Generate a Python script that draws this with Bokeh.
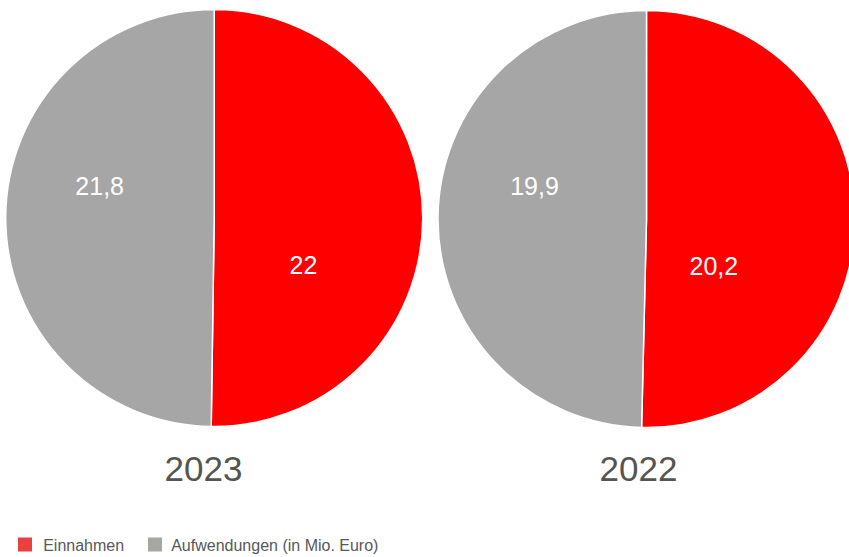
import math
from bokeh.plotting import figure
from bokeh.models import Range1d, ColumnDataSource
from bokeh.embed import file_html
from bokeh.resources import INLINE
from bokeh.core.properties import value

# ---- data ----
years = ["2023", "2022"]
einnahmen = [22.0, 20.2]
aufwendungen = [21.8, 19.9]
einnahmen_labels = ["22", "20,2"]
aufwendungen_labels = ["21,8", "19,9"]
series_names = ["Einnahmen", "Aufwendungen (in Mio. Euro)"]

# ---- styles / layout (screen pixels) ----
RED = "#FF0000"
GRAY = "#A6A6A6"
LEG_RED = "#E8413F"
LEG_GRAY = "#A6A6A3"
YEAR_COLOR = "#55544E"
LEG_TEXT = "#58585A"
FONT = "Liberation Sans"

W, H = 849, 557
centers = [(213.7, 217.5), (646.0, 218.5)]
R = 208.5
red_lbl_off = [(89.3, 46.5), (67.3, 46.5)]
gray_lbl_off = [(-114.5, -32.5), (-112.0, -33.5)]
year_pos = [(203.0, 468.7), (638.0, 468.7)]
leg_sq = [(24.5, 544.0), (154.5, 544.0)]
leg_txt = [(42.7, 544.5), (170.7, 544.5)]


def sy(y):
    return H - y


p = figure(width=W, height=H, output_backend="svg", toolbar_location=None,
           x_range=Range1d(0, W), y_range=Range1d(0, H),
           min_border=0, outline_line_color=None)
p.axis.visible = False
p.grid.visible = False
p.background_fill_color = "white"
p.border_fill_color = "white"

# wedges
xs, ys, starts, ends, colors = [], [], [], [], []
for i in range(len(years)):
    total = einnahmen[i] + aufwendungen[i]
    frac = einnahmen[i] / total
    cx, cy = centers[i][0], sy(centers[i][1])
    top = math.pi / 2
    xs.append(cx); ys.append(cy)
    starts.append(top - 2 * math.pi * frac); ends.append(top); colors.append(RED)
    xs.append(cx); ys.append(cy)
    starts.append(top); ends.append(top - 2 * math.pi * frac + 2 * math.pi); colors.append(GRAY)

src = ColumnDataSource(dict(x=xs, y=ys, s=starts, e=ends, c=colors))
p.wedge(x="x", y="y", radius=R, start_angle="s", end_angle="e",
        fill_color="c", line_color="white", line_width=1.5, source=src)

# value labels
lx, ly, lt = [], [], []
for i in range(len(years)):
    cx, cy = centers[i]
    lx.append(cx + red_lbl_off[i][0]); ly.append(sy(cy + red_lbl_off[i][1])); lt.append(einnahmen_labels[i])
    lx.append(cx + gray_lbl_off[i][0]); ly.append(sy(cy + gray_lbl_off[i][1])); lt.append(aufwendungen_labels[i])
p.text(x=lx, y=ly, text=lt, text_color="white", text_font=value(FONT),
       text_font_size="25px", text_align="center", text_baseline="alphabetic")

# year labels
p.text(x=[pos[0] for pos in year_pos], y=[sy(pos[1]) for pos in year_pos], text=years,
       text_color=YEAR_COLOR, text_font=value(FONT), text_font_size="35px",
       text_align="center", text_baseline="alphabetic")

# legend
p.scatter(x=[q[0] for q in leg_sq], y=[sy(q[1]) for q in leg_sq], marker="square",
          size=14, fill_color=[LEG_RED, LEG_GRAY], line_color=None)
p.text(x=[q[0] for q in leg_txt], y=[sy(q[1]) for q in leg_txt], text=series_names,
       text_color=LEG_TEXT, text_font=value(FONT), text_font_size="16px",
       text_align="left", text_baseline="alphabetic")

open("out.html", "w").write(file_html(p, INLINE))
